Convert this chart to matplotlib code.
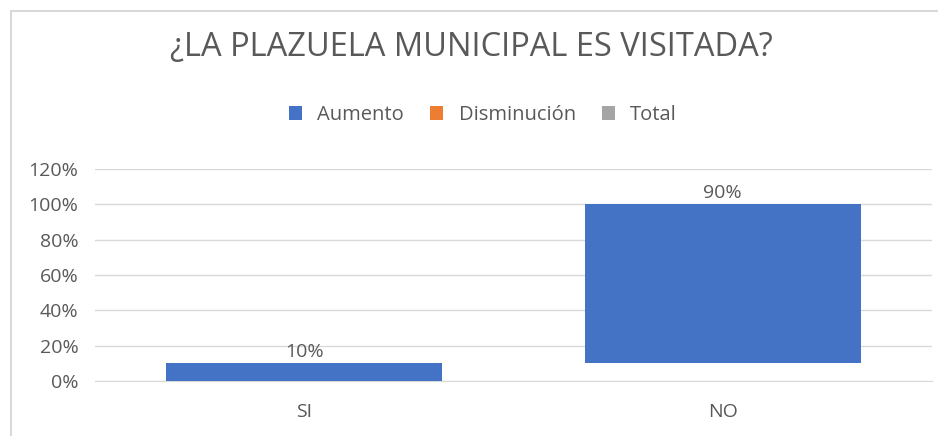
import matplotlib.pyplot as plt
from matplotlib.patches import Patch, Rectangle
from matplotlib.ticker import FuncFormatter

# datos del gráfico de cascada
categorias = ["SI", "NO"]
valores = [0.10, 0.90]
etiquetas = ["10%", "90%"]
serie_nombres = ["Aumento", "Disminución", "Total"]
serie_colores = ["#4472C4", "#ED7D31", "#A5A5A5"]

plt.rcParams['font.family'] = ['Open Sans', 'DejaVu Sans']
gris = "#595959"

fig = plt.figure(figsize=(9.38, 4.36), dpi=100)
fig.patches.append(Rectangle((11 / 938, -0.1), 1.2, 1.1 - 11 / 436, transform=fig.transFigure,
                             fill=False, edgecolor="#D9D9D9", linewidth=1.5))
ax = fig.add_axes([95 / 938, 1 - 381 / 436, (932 - 95) / 938, (381 - 169) / 436])

# base acumulada (cascada)
bases = []
acum = 0
for v in valores:
    bases.append(acum)
    acum += v

x = range(len(categorias))
ax.bar(x, valores, bottom=bases, width=0.66, color=serie_colores[0], zorder=3)
for i, (b, v, t) in enumerate(zip(bases, valores, etiquetas)):
    ax.text(i, b + v + 0.012, t, ha="center", va="bottom", fontsize=14, color=gris)

ax.set_xlim(-0.5, 1.5)
ax.set_ylim(0, 1.2)
ax.set_yticks([0, 0.2, 0.4, 0.6, 0.8, 1.0, 1.2])
ax.yaxis.set_major_formatter(FuncFormatter(lambda y, _: f"{y * 100:.0f}%"))
ax.set_xticks(list(x))
ax.set_xticklabels(categorias)
ax.tick_params(axis="both", length=0, labelsize=14, colors=gris)
ax.tick_params(axis="x", pad=16)
ax.tick_params(axis="y", pad=12)
ax.grid(axis="y", color="#D9D9D9", linewidth=1, zorder=0)
for s in ["top", "right", "left"]:
    ax.spines[s].set_visible(False)
ax.spines["bottom"].set_color("#D9D9D9")

fig.text(471 / 938, 1 - 48 / 436, "¿LA PLAZUELA MUNICIPAL ES VISITADA?", ha="center", va="center",
         fontsize=23.5, color=gris)

handles = [Patch(facecolor=c, edgecolor="none") for c in serie_colores]
fig.legend(handles, serie_nombres, loc="center", bbox_to_anchor=(483 / 938, 1 - 115 / 436),
           ncol=3, frameon=False, fontsize=14.5, labelcolor=gris,
           handlelength=0.65, handleheight=0.65, handletextpad=0.75, columnspacing=1.3)

fig.savefig("out.png", dpi=100)
